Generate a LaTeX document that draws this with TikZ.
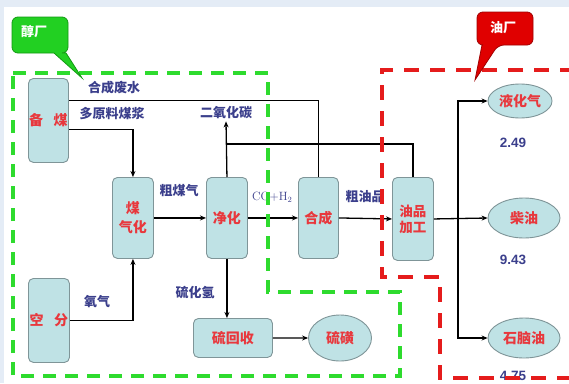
\documentclass[tikz,border=0pt]{standalone}
\usepackage{fontspec}
\newfontfamily\cjk{Noto Sans CJK SC}
\newfontfamily\numfont{Liberation Sans}
\usetikzlibrary{shapes.geometric,arrows.meta}
\definecolor{boxfill}{HTML}{BFE2E5}
\definecolor{boxline}{HTML}{7F9598}
\definecolor{ntext}{HTML}{E8383D}
\definecolor{ltext}{HTML}{3B3F8C}
\definecolor{gdash}{HTML}{2EDB2E}
\definecolor{rdash}{HTML}{E51C1C}
\definecolor{bgblue}{HTML}{E4ECF6}
\definecolor{gcall}{HTML}{22D022}
\definecolor{gcallb}{HTML}{129A12}
\definecolor{rcall}{HTML}{E00000}
\definecolor{rcallb}{HTML}{A00000}
\begin{document}
\begin{tikzpicture}[x=1pt,y=-1pt,
 box/.style={draw=boxline, fill=boxfill, rounded corners=5pt, line width=0.9pt, inner sep=0pt, anchor=north west, text=ntext, font=\cjk\bfseries\fontsize{14}{17}\selectfont, align=center},
 ell/.style={ellipse, draw=boxline, fill=boxfill, line width=0.9pt, inner sep=0pt, text=ntext, font=\cjk\bfseries\fontsize{14}{17}\selectfont},
 lbl/.style={text=ltext, font=\cjk\bfseries\fontsize{13}{15}\selectfont, inner sep=1pt},
 num/.style={text=ltext, font=\numfont\bfseries\fontsize{13.5}{15}\selectfont, inner sep=0pt},
 conn/.style={draw=black, line width=1.3pt},
 arr/.style={conn, -{Stealth[length=6pt,width=5pt]}},
 zone/.style={line width=3.4pt},
 calltext/.style={text=white, font=\cjk\bfseries\fontsize{13}{15}\selectfont, inner sep=0pt},
]
\useasboundingbox (0,0) rectangle (569,383);
\fill[white] (0,0) rectangle (569,383);
\fill[bgblue] (0,0) rectangle (569,7);
\fill[bgblue] (0,0) rectangle (4,383);

% process boxes
\node[box, minimum width=40pt, minimum height=84pt] (bm) at (28,78) {备\hspace{0.75em}煤};
\node[box, minimum width=41pt, minimum height=81pt] (mqh) at (112,177) {煤\\[2pt]气化};
\node[box, minimum width=41pt, minimum height=84pt] (kf) at (28,278) {空\hspace{0.75em}分};
\node[box, minimum width=41pt, minimum height=81pt] (jh) at (206,177) {净化};
\node[box, minimum width=40pt, minimum height=81pt] (hc) at (298,177) {合成};
\node[box, minimum width=41pt, minimum height=83pt, font=\cjk\bfseries\fontsize{13.5}{16}\selectfont] (yp) at (392,177) {油品\\加工};
\node[box, minimum width=79pt, minimum height=39pt] (lhs) at (193,318) {硫回收};

% products
\node[ell, minimum width=63pt, minimum height=46pt] (lh) at (340,338) {硫磺};
\node[ell, minimum width=64pt, minimum height=34pt] (yhq) at (520,101) {液化气};
\node[ell, minimum width=72pt, minimum height=40pt] (cy) at (524,218) {柴油};
\node[ell, minimum width=72pt, minimum height=40pt] (snr) at (524,338) {石脑油};

% labels
\node[lbl] (lfs) at (114,88) {合成废水};
\node[lbl] (ldy) at (112,114) {多原料煤浆};
\node[lbl] (co2) at (226,113) {二氧化碳};
\node[lbl] (lcm) at (179,191) {粗煤气};
\node[lbl, font=\fontsize{12}{14}\selectfont] (lco) at (272,197) {CO+H\raisebox{-0.45ex}{\fontsize{8}{9}\selectfont 2}};
\node[lbl] (lcy) at (365,197) {粗油品};
\node[lbl] (lyq) at (97,302) {氧气};
\node[lbl] (lhq) at (195,293) {硫化氢};
\node[num] (n1) at (513,143) {2.49};
\node[num] (n2) at (513,260) {9.43};
\node[num] (n3) at (513,376) {4.75};

% connectors
\draw[conn] (hc.north) |- ([yshift=20pt]bm.east);
\draw[arr] ([yshift=-9pt]bm.east) -| (mqh.north);
\draw[arr] (kf.east) -| (mqh.south);
\draw[arr] (mqh.east) -- (jh.west);
\draw[arr] (jh.east) -- (hc.west);
\draw[arr] (hc.east) -- (yp.west);
\draw[arr] (yp.east) -- (cy.west);
\draw[arr] (jh.north) -- ([yshift=-1pt]co2.south);
\coordinate (h2a) at (227,144);
\draw[conn] (h2a) -| (yp.north);
\draw[arr] (jh.south) -- (jh.south |- lhs.north);
\draw[arr] (lhs.east) -- (lh.west);
\coordinate (t1) at (458,218);
\draw[arr] (t1) |- (yhq.west);
\draw[arr] (t1) |- (snr.west);

% zones
\draw[zone, gdash, dash pattern=on 13pt off 9pt] (13,73) -- (268,73) -- (268,292) -- (400,292) -- (400,376) -- (13,376) -- cycle;
\draw[zone, rdash, dash pattern=on 15pt off 11pt] (575,70) -- (382,70) -- (382,277) -- (440,277) -- (440,378) -- (575,378);

% callouts
\draw[draw=gcallb, fill=gcall, line width=0.8pt, rounded corners=6pt] (12,17) -- (68,17) -- (68,53) [sharp corners] -- (66,53) -- (82,78) -- (54,53) [rounded corners=6pt] -- (12,53) -- cycle;
\node[calltext] (cjc) at (34,32) {醇厂};
\draw[draw=rcallb, fill=rcall, line width=0.8pt, rounded corners=6pt] (477,12) -- (533,12) -- (533,45) -- (498,45) [sharp corners] -- (475,80) -- (482,45) [rounded corners=6pt] -- (477,45) -- cycle;
\node[calltext] (yc) at (503,28) {油厂};
\end{tikzpicture}
\end{document}
